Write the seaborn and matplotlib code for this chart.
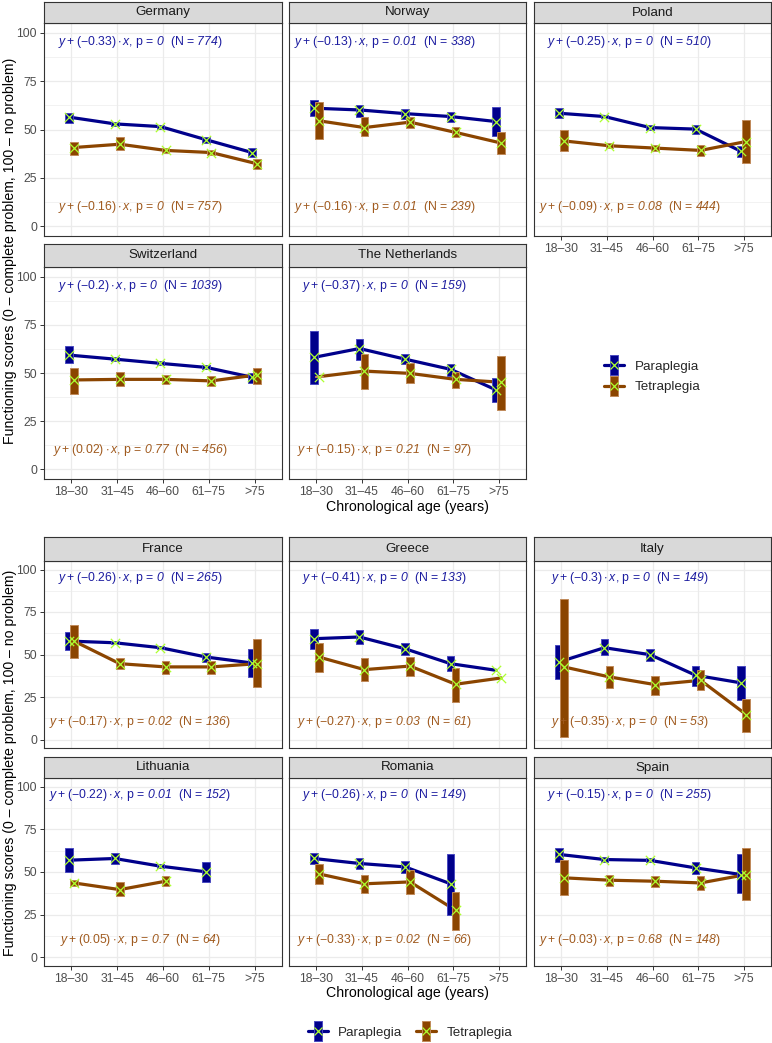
import numpy as np
import pandas as pd
import matplotlib
matplotlib.use("Agg")
import matplotlib.pyplot as plt
import seaborn as sns
from matplotlib.path import Path
from matplotlib.lines import Line2D
from matplotlib.ticker import FixedLocator

nan = np.nan

# ---------------- data ----------------
age_groups = ["18–30", "31–45", "46–60", "61–75", ">75"]
groups = ["Paraplegia", "Tetraplegia"]
countries_top = ["Germany", "Norway", "Poland", "Switzerland", "The Netherlands"]
countries_bottom = ["France", "Greece", "Italy", "Lithuania", "Romania", "Spain"]

para_mean = {
    "Germany": [56.4, 52.9, 51.5, 44.7, 38.1],
    "Norway": [61.0, 60.1, 58.2, 56.7, 54.1],
    "Poland": [58.4, 56.7, 51.0, 50.2, 38.7],
    "Switzerland": [59.3, 57.2, 55.0, 52.9, 47.8],
    "The Netherlands": [58.1, 62.7, 57.2, 51.9, 41.2],
    "France": [57.9, 56.9, 54.0, 48.5, 45.0],
    "Greece": [59.3, 60.3, 53.4, 44.6, 40.7],
    "Italy": [45.6, 54.0, 49.9, 37.8, 33.3],
    "Lithuania": [56.9, 57.9, 53.4, 50.1, nan],
    "Romania": [57.9, 55.0, 53.0, 43.1, nan],
    "Spain": [60.3, 57.3, 56.8, 52.4, 48.5],
}
para_lo = {
    "Germany": [53.3, 51.9, 50.5, 43.2, 35.7],
    "Norway": [57.2, 56.7, 55.5, 54.1, 46.7],
    "Poland": [55.8, 55.7, 49.5, 47.8, 36.0],
    "Switzerland": [55.0, 56.2, 54.0, 51.9, 44.7],
    "The Netherlands": [44.2, 57.0, 54.6, 48.6, 34.7],
    "France": [52.8, 55.9, 53.0, 45.6, 36.8],
    "Greece": [53.0, 56.4, 49.5, 40.3, nan],
    "Italy": [35.8, 49.5, 46.2, 31.3, 23.5],
    "Lithuania": [49.9, 54.8, 52.4, 44.0, nan],
    "Romania": [54.8, 51.9, 49.5, 25.0, nan],
    "Spain": [56.0, 56.1, 55.6, 49.1, 37.8],
}
para_hi = {
    "Germany": [58.4, 53.9, 52.5, 46.2, 40.4],
    "Norway": [65.3, 62.7, 60.7, 58.9, 61.5],
    "Poland": [61.0, 57.7, 52.5, 52.4, 41.4],
    "Switzerland": [63.9, 58.2, 56.0, 53.9, 49.8],
    "The Netherlands": [71.8, 67.4, 59.6, 54.6, 47.3],
    "France": [63.2, 57.9, 55.0, 51.1, 53.0],
    "Greece": [64.8, 64.2, 56.9, 49.1, nan],
    "Italy": [55.4, 58.9, 53.4, 43.2, 43.2],
    "Lithuania": [64.2, 60.9, 54.4, 56.0, nan],
    "Romania": [60.9, 57.9, 56.4, 60.3, nan],
    "Spain": [63.8, 58.5, 58.0, 55.8, 60.7],
}
tetra_mean = {
    "Germany": [40.7, 42.4, 39.2, 38.1, 32.3],
    "Norway": [54.5, 51.0, 53.8, 48.5, 43.0],
    "Poland": [44.1, 41.6, 40.4, 39.2, 43.8],
    "Switzerland": [46.4, 46.7, 46.7, 45.9, 49.0],
    "The Netherlands": [48.1, 51.0, 49.8, 46.7, 45.2],
    "France": [57.9, 44.6, 42.7, 42.7, 44.6],
    "Greece": [48.5, 41.1, 43.2, 32.5, 36.2],
    "Italy": [42.7, 36.8, 32.3, 34.8, 14.7],
    "Lithuania": [43.6, 39.7, 44.6, nan, nan],
    "Romania": [48.9, 43.1, 44.2, 27.6, nan],
    "Spain": [46.6, 45.2, 44.6, 43.6, 48.5],
}
tetra_lo = {
    "Germany": [36.9, 39.5, 38.0, 36.6, 29.8],
    "Norway": [45.0, 46.4, 50.7, 45.9, 37.3],
    "Poland": [39.1, 40.4, 38.9, 36.1, 32.6],
    "Switzerland": [39.2, 43.0, 44.2, 43.0, 44.2],
    "The Netherlands": [47.8, 41.6, 44.7, 42.1, 30.9],
    "France": [47.9, 41.3, 38.7, 38.7, 30.9],
    "Greece": [39.7, 34.2, 37.2, 22.1, nan],
    "Italy": [1.2, 30.3, 26.4, 29.0, 4.5],
    "Lithuania": [42.1, 35.8, 41.7, nan, nan],
    "Romania": [42.7, 37.8, 37.2, 16.2, nan],
    "Spain": [36.8, 41.7, 41.1, 39.3, 33.5],
}
tetra_hi = {
    "Germany": [43.8, 45.9, 40.4, 39.6, 34.8],
    "Norway": [64.1, 56.2, 56.7, 51.5, 48.6],
    "Poland": [49.8, 42.8, 41.9, 41.8, 55.0],
    "Switzerland": [52.7, 50.3, 49.0, 48.5, 52.4],
    "The Netherlands": [48.4, 59.6, 55.0, 50.3, 58.8],
    "France": [67.1, 48.1, 46.2, 46.2, 58.9],
    "Greece": [56.8, 48.1, 48.5, 42.3, nan],
    "Italy": [82.8, 43.2, 37.2, 40.7, 24.1],
    "Lithuania": [45.1, 44.0, 47.6, nan, nan],
    "Romania": [54.8, 48.1, 50.9, 38.4, nan],
    "Spain": [57.3, 48.5, 47.9, 47.6, 64.2],
}
# annotation: (slope, p-value, N)
para_stats = {
    "Germany": ("-0.33", "0", "774"), "Norway": ("-0.13", "0.01", "338"),
    "Poland": ("-0.25", "0", "510"), "Switzerland": ("-0.2", "0", "1039"),
    "The Netherlands": ("-0.37", "0", "159"), "France": ("-0.26", "0", "265"),
    "Greece": ("-0.41", "0", "133"), "Italy": ("-0.3", "0", "149"),
    "Lithuania": ("-0.22", "0.01", "152"), "Romania": ("-0.26", "0", "149"),
    "Spain": ("-0.15", "0", "255"),
}
tetra_stats = {
    "Germany": ("-0.16", "0", "757"), "Norway": ("-0.16", "0.01", "239"),
    "Poland": ("-0.09", "0.08", "444"), "Switzerland": ("0.02", "0.77", "456"),
    "The Netherlands": ("-0.15", "0.21", "97"), "France": ("-0.17", "0.02", "136"),
    "Greece": ("-0.27", "0.03", "61"), "Italy": ("-0.35", "0", "53"),
    "Lithuania": ("0.05", "0.7", "64"), "Romania": ("-0.33", "0.02", "66"),
    "Spain": ("-0.03", "0.68", "148"),
}

# ---------------- styling ----------------
PARA_C = "#00008B"
TETRA_C = "#8B4500"
PARA_EDGE = "#4a4ac0"
TETRA_EDGE = "#c08a5a"
PARA_TXT = "#1c1ca0"
TETRA_TXT = "#a05a1e"
XMARK = "#adff2f"
palette = {"Paraplegia": PARA_C, "Tetraplegia": TETRA_C}

sns.set_theme(style="white")
plt.rcParams["font.family"] = ["Liberation Sans", "DejaVu Sans"]
plt.rcParams["mathtext.fontset"] = "custom"
plt.rcParams["mathtext.rm"] = "Liberation Sans"
plt.rcParams["mathtext.it"] = "Liberation Sans:italic"
plt.rcParams["mathtext.bf"] = "Liberation Sans:italic"
plt.rcParams["mathtext.sf"] = "Liberation Sans"
plt.rcParams["mathtext.fallback"] = "stixsans"

W, H = 772, 1043
fig = plt.figure(figsize=(W / 100, H / 100), dpi=100)

cols = [(44, 282), (289, 526), (534, 771)]
rows_top = [(2, 23, 236), (244, 267, 479)]
rows_bot = [(537, 561, 748), (757, 778, 966)]

DODGE = 0.055
BARW = 0.17


def px_axes(x0, x1, y0, y1):
    return fig.add_axes([x0 / W, 1 - y1 / H, (x1 - x0) / W, (y1 - y0) / H])


def fmt_text(stats):
    s, p, n = stats
    return (r"$y+(" + s + r")\cdot x$, p = $\mathbf{" + p + r"}$  (N = $\mathbf{" + n + r"}$)")


def draw_panel(country, col, row, show_y, show_x):
    x0, x1 = cols[col]
    st, pt, pb = row
    ax = px_axes(x0, x1, pt, pb)
    sax = px_axes(x0, x1, st, pt)
    sax.set_facecolor("#d9d9d9")
    sax.set_xticks([]); sax.set_yticks([])
    for sp in sax.spines.values():
        sp.set_color("#333333"); sp.set_linewidth(0.8)
    sax.text(0.5, 0.5, country, ha="center", va="center", fontsize=9.6, color="#1a1a1a",
             transform=sax.transAxes)

    recs = []
    for g, mean, lo, hi, off in [("Paraplegia", para_mean, para_lo, para_hi, -DODGE),
                                 ("Tetraplegia", tetra_mean, tetra_lo, tetra_hi, DODGE)]:
        for i, a in enumerate(age_groups):
            recs.append({"group": g, "age": a, "xpos": i + off, "mean": mean[country][i],
                         "lo": lo[country][i], "hi": hi[country][i]})
    df = pd.DataFrame(recs)
    dfl = df.dropna(subset=["mean"])

    sns.lineplot(data=dfl, x="xpos", y="mean", hue="group", palette=palette, ax=ax,
                 legend=False, linewidth=2.3, sort=True, zorder=2)
    for g, edge in [("Paraplegia", PARA_EDGE), ("Tetraplegia", TETRA_EDGE)]:
        d = df[(df.group == g)].dropna(subset=["lo", "hi"])
        ax.bar(d["xpos"], d["hi"] - d["lo"], bottom=d["lo"], width=BARW,
               color=palette[g], edgecolor=edge, linewidth=0.7, zorder=3)
    ax.scatter(dfl["xpos"], dfl["mean"], marker="x", s=45, color=XMARK, linewidths=0.9, zorder=4)

    ax.text(1.5, 95, fmt_text(para_stats[country]), color=PARA_TXT, ha="center", va="center",
            fontsize=8.8)
    ax.text(1.5, 10, fmt_text(tetra_stats[country]), color=TETRA_TXT, ha="center", va="center",
            fontsize=8.8)

    ax.set_xlim(-0.6, 4.6)
    ax.set_ylim(-5, 105)
    ax.set_facecolor("white")
    ax.xaxis.set_major_locator(FixedLocator(range(5)))
    ax.yaxis.set_major_locator(FixedLocator([0, 25, 50, 75, 100]))
    ax.yaxis.set_minor_locator(FixedLocator([12.5, 37.5, 62.5, 87.5]))
    ax.grid(True, which="major", color="#ebebeb", linewidth=0.9, zorder=0)
    ax.grid(True, which="minor", axis="y", color="#ebebeb", linewidth=0.45, zorder=0)
    ax.set_axisbelow(True)
    for sp in ax.spines.values():
        sp.set_color("#333333"); sp.set_linewidth(0.8); sp.set_visible(True)
    ax.set_xlabel(""); ax.set_ylabel("")
    ax.tick_params(which="minor", length=0)
    if show_y:
        ax.set_yticks([0, 25, 50, 75, 100])
        ax.set_yticklabels(["0", "25", "50", "75", "100"])
        ax.tick_params(axis="y", which="major", length=3, width=0.7, color="#333333",
                       labelsize=8.8, labelcolor="#4d4d4d", pad=2, left=True)
    else:
        ax.tick_params(axis="y", which="major", length=0, labelleft=False)
    if show_x:
        ax.set_xticks(range(5))
        ax.set_xticklabels(age_groups)
        ax.tick_params(axis="x", which="major", length=3, width=0.7, color="#333333",
                       labelsize=8.8, labelcolor="#4d4d4d", pad=2, bottom=True)
    else:
        ax.tick_params(axis="x", which="major", length=0, labelbottom=False)
    return ax


# top block
top_layout = [("Germany", 0, 0), ("Norway", 1, 0), ("Poland", 2, 0),
              ("Switzerland", 0, 1), ("The Netherlands", 1, 1)]
for c, col, r in top_layout:
    draw_panel(c, col, rows_top[r], show_y=(col == 0),
               show_x=(r == 1 or c == "Poland"))

bot_layout = [("France", 0, 0), ("Greece", 1, 0), ("Italy", 2, 0),
              ("Lithuania", 0, 1), ("Romania", 1, 1), ("Spain", 2, 1)]
for c, col, r in bot_layout:
    draw_panel(c, col, rows_bot[r], show_y=(col == 0), show_x=(r == 1))

ylab = "Functioning scores (0 – complete problem, 100 – no problem)"
fig.text(10 / W, 1 - 251 / H, ylab, rotation=90, ha="center", va="center", fontsize=10.2,
         color="black")
fig.text(10 / W, 1 - 763 / H, ylab, rotation=90, ha="center", va="center", fontsize=10.2,
         color="black")
fig.text(407 / W, 1 - 507 / H, "Chronological age (years)", ha="center", va="center",
         fontsize=10.2, color="black")
fig.text(407 / W, 1 - 993 / H, "Chronological age (years)", ha="center", va="center",
         fontsize=10.2, color="black")

# legend handles
rect_path = Path([(-0.22, -0.5), (0.22, -0.5), (0.22, 0.5), (-0.22, 0.5), (-0.22, -0.5)],
                 [Path.MOVETO, Path.LINETO, Path.LINETO, Path.LINETO, Path.CLOSEPOLY])


def handle(color, edge):
    return (Line2D([], [], color=color, lw=2.3),
            Line2D([], [], marker=rect_path, markersize=14, color=color, markeredgecolor=edge,
                   markeredgewidth=0.7, linestyle=""),
            Line2D([], [], marker="x", markersize=5.5, color=XMARK, markeredgewidth=0.9,
                   linestyle=""))


handles = [handle(PARA_C, PARA_EDGE), handle(TETRA_C, TETRA_EDGE)]
fig.legend(handles, groups, loc="center", bbox_to_anchor=(652 / W, 1 - 377 / H),
           frameon=False, fontsize=9.6, handlelength=1.5, labelspacing=0.6, handletextpad=0.8)
fig.legend(handles, groups, loc="center", bbox_to_anchor=(410 / W, 1 - 1033 / H), ncol=2,
           frameon=False, fontsize=9.6, handlelength=1.5, handletextpad=0.8, columnspacing=1.0)

fig.savefig("out.png", dpi=100)
